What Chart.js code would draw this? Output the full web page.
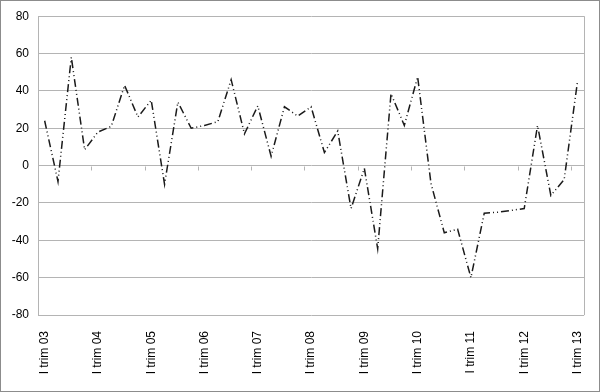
<!DOCTYPE html>
<html>
<head>
<meta charset="utf-8">
<script src="https://cdn.jsdelivr.net/npm/chart.js@4/dist/chart.umd.min.js"></script>
<style>
  html, body { margin: 0; padding: 0; background: #fff; }
  #wrap { width: 600px; height: 392px; position: relative; }
</style>
</head>
<body>
<div id="wrap"><canvas id="chart"></canvas></div>
<script>
// quarterly categories, Q1 2003 .. Q1 2013
const quarters = [
  "I trim 03", "II trim 03", "III trim 03", "IV trim 03",
  "I trim 04", "II trim 04", "III trim 04", "IV trim 04",
  "I trim 05", "II trim 05", "III trim 05", "IV trim 05",
  "I trim 06", "II trim 06", "III trim 06", "IV trim 06",
  "I trim 07", "II trim 07", "III trim 07", "IV trim 07",
  "I trim 08", "II trim 08", "III trim 08", "IV trim 08",
  "I trim 09", "II trim 09", "III trim 09", "IV trim 09",
  "I trim 10", "II trim 10", "III trim 10", "IV trim 10",
  "I trim 11", "II trim 11", "III trim 11", "IV trim 11",
  "I trim 12", "II trim 12", "III trim 12", "IV trim 12",
  "I trim 13"
];

const values = [
  24, -8.5, 58, 8.5, 18, 21, 43, 26, 35, -10, 34, 20,
  21.5, 23.5, 46, 17, 32, 5, 31.5, 26.5, 31.5, 7, 18.5, -23,
  -1.5, -44.5, 38.5, 21.5, 47.5, -9.5, -36, -34, -60, -25.5, -25, -24,
  -23, 21.5, -16, -7.5, 45
];

const yTicks = [-80, -60, -40, -20, 0, 20, 40, 60, 80];

const gridGray = '#b4b4b4';

// plot frame, outer border and the small category ticks sitting on the zero line
const decorations = {
  id: 'decorations',
  afterDraw(chart) {
    const { ctx, chartArea, scales } = chart;
    const x = scales.x, y = scales.y;
    ctx.save();
    ctx.lineWidth = 1;
    ctx.strokeStyle = gridGray;
    ctx.beginPath();
    ctx.moveTo(Math.round(chartArea.right) + 0.5, chartArea.top);
    ctx.lineTo(Math.round(chartArea.right) + 0.5, chartArea.bottom);
    ctx.stroke();

    const y0 = Math.round(y.getPixelForValue(0)) + 0.5;
    ctx.beginPath();
    for (let i = 4; i < quarters.length; i += 4) {
      const bx = Math.round((x.getPixelForValue(i - 1) + x.getPixelForValue(i)) / 2) + 0.5;
      ctx.moveTo(bx, y0);
      ctx.lineTo(bx, y0 + 4);
    }
    ctx.stroke();

    ctx.strokeStyle = '#8c8c8c';
    ctx.strokeRect(0.5, 0.5, chart.width - 1, chart.height - 1);
    ctx.restore();
  }
};

new Chart(document.getElementById('chart'), {
  type: 'line',
  data: {
    labels: quarters,
    datasets: [{
      data: values,
      borderColor: '#1a1a1a',
      borderWidth: 1.5,
      borderDash: [8, 3, 1, 3, 1, 3],
      pointRadius: 0,
      tension: 0,
      fill: false
    }]
  },
  options: {
    responsive: true,
    maintainAspectRatio: false,
    animation: false,
    layout: { padding: { left: 0, top: 16, right: 9, bottom: 0 } },
    plugins: {
      legend: { display: false },
      tooltip: { enabled: false }
    },
    scales: {
      x: {
        offset: true,
        grid: { display: false },
        border: { display: false },
        ticks: {
          autoSkip: false,
          maxRotation: 90,
          minRotation: 90,
          padding: 8,
          color: '#000',
          font: { family: 'Liberation Sans, Arial, sans-serif', size: 12 },
          callback: (val, i) => (i % 4 === 0 ? quarters[i] : '')
        },
        afterFit(scale) { scale.height = 77; }
      },
      y: {
        min: -80,
        max: 80,
        afterBuildTicks(scale) { scale.ticks = yTicks.map(v => ({ value: v })); },
        grid: { color: gridGray, lineWidth: 1, drawTicks: false },
        border: { color: gridGray },
        ticks: {
          padding: 9,
          color: '#000',
          font: { family: 'Liberation Sans, Arial, sans-serif', size: 12 }
        },
        afterFit(scale) { scale.width = 38; }
      }
    }
  },
  plugins: [decorations]
});
</script>
</body>
</html>
